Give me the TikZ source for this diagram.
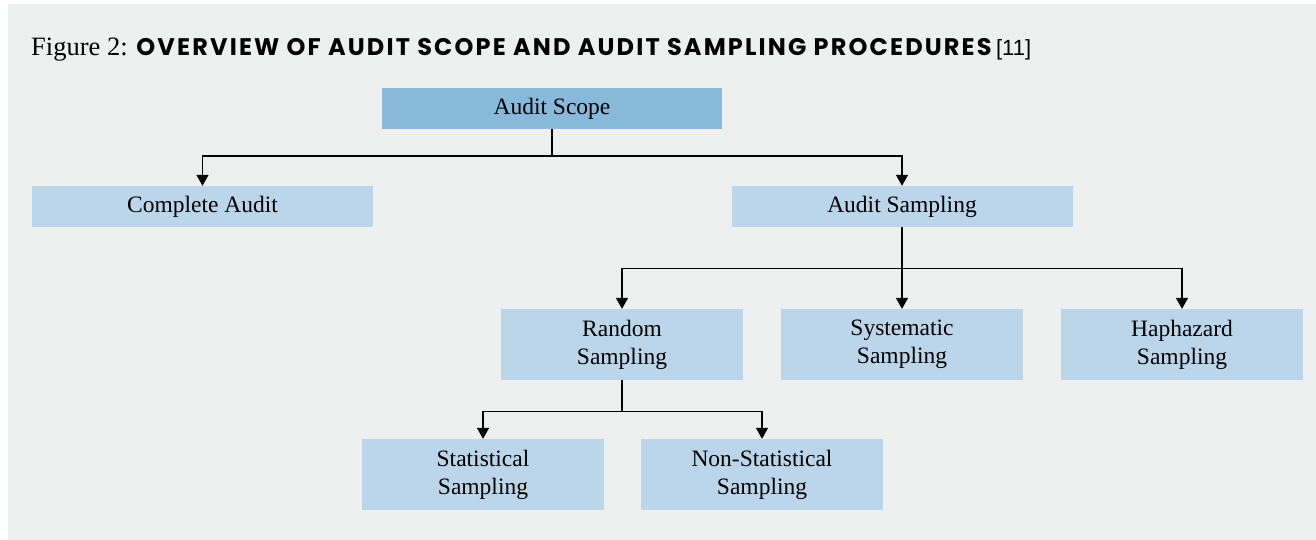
\documentclass[tikz,border=0pt]{standalone}
\usepackage{fontspec}
\setmainfont{Liberation Serif}
\newfontfamily\headfont{Poppins}[BoldFont={* Bold},LetterSpace=9]
\newfontfamily\refsfont{Liberation Sans}
\usepackage{tikz}
\usetikzlibrary{arrows.meta,positioning}
\definecolor{bgcol}{HTML}{EEF0EF}
\definecolor{topblue}{HTML}{88B8DA}
\definecolor{boxblue}{HTML}{BBD6EB}

\begin{document}
\begin{tikzpicture}[
  x=1pt,y=-1pt,
  font=\fontsize{23.5}{28}\selectfont,
  box/.style={fill=boxblue,minimum height=41pt,minimum width=341pt,inner sep=0pt,align=center},
  twobox/.style={fill=boxblue,minimum height=71pt,minimum width=242pt,inner sep=0pt,align=center},
  ar/.style={-{Triangle[width=12pt,length=11pt]},line width=1.4pt}
]
\useasboundingbox (0,0) rectangle (1316,540);
\fill[bgcol] (8,4) rectangle (1316,540);

% caption
\node[anchor=base west,inner sep=0pt] (cap) at (31,56)
  {\fontsize{26.5}{30}\selectfont Figure 2: {\headfont\fontsize{24}{28}\selectfont\bfseries OVERVIEW OF AUDIT SCOPE AND AUDIT SAMPLING PROCEDURES}\,{\refsfont\fontsize{22}{26}\selectfont[11]}};

% top level
\node[box,fill=topblue,minimum width=340pt] (scope) at (552,108.5) {Audit Scope};
\node[box] (complete) at (202.5,206.5) {Complete Audit};
\node[box] (sampling) at (902,206.5) {Audit Sampling};

% sampling methods
\node[twobox] (random)     at (622,344.5)  {Random\\Sampling};
\node[twobox] (systematic) at (902,344.5)  {Systematic\\Sampling};
\node[twobox] (haphazard)  at (1182,344.5) {Haphazard\\Sampling};

% random sampling split
\node[twobox] (statistical) at (483,474.5) {Statistical\\Sampling};
\node[twobox] (nonstat)     at (762,474.5) {Non-Statistical\\Sampling};

\draw[ar] (scope.south) -- ++(0,27) -| (complete.north);
\draw[ar] (scope.south) -- ++(0,27) -| (sampling.north);
\draw[ar] (sampling.south) -- ++(0,41) -| (random.north);
\draw[ar] (sampling.south) -- (systematic.north);
\draw[ar] (sampling.south) -- ++(0,41) -| (haphazard.north);
\draw[ar] (random.south) -- ++(0,31) -| (statistical.north);
\draw[ar] (random.south) -- ++(0,31) -| (nonstat.north);
\end{tikzpicture}
\end{document}
